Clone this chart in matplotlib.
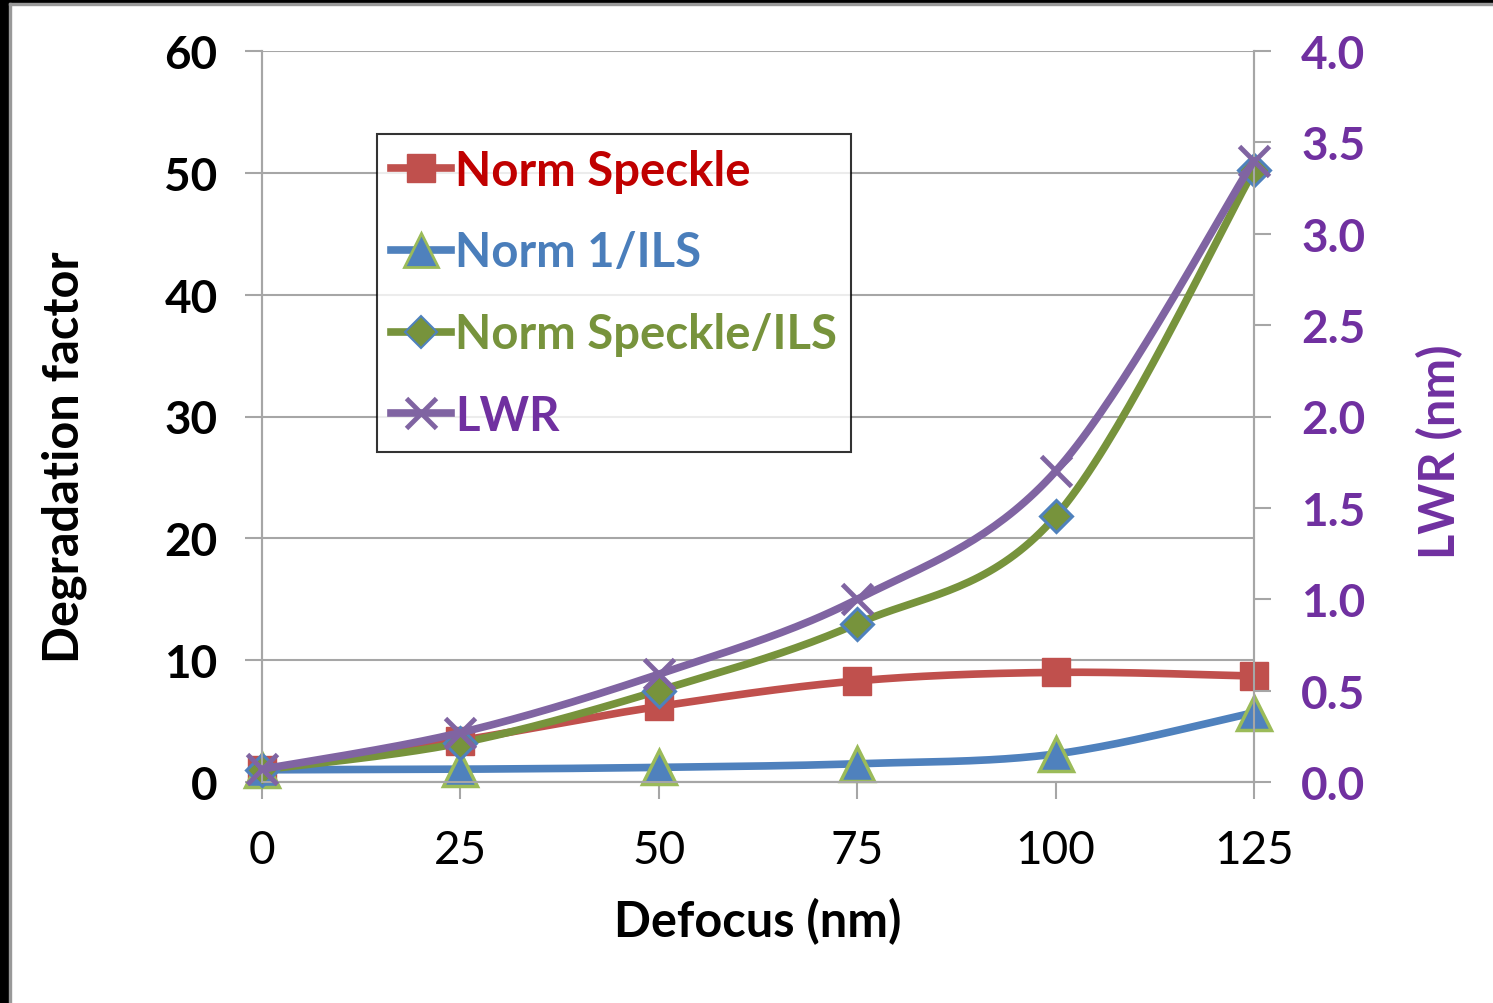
import numpy as np
import matplotlib
matplotlib.use('Agg')
import matplotlib.pyplot as plt
from matplotlib.lines import Line2D
from matplotlib.patches import Rectangle

plt.rcParams['font.family'] = ['Lato', 'DejaVu Sans']

# data
defocus = [0, 25, 50, 75, 100, 125]
norm_speckle = [1.0, 3.4, 6.2, 8.3, 9.0, 8.7]
norm_ils = [1.0, 1.05, 1.2, 1.5, 2.3, 5.7]
norm_speckle_ils = [1.0, 3.2, 7.5, 13.0, 21.8, 50.2]
lwr = [0.07, 0.27, 0.59, 1.00, 1.70, 3.40]

left_ticks = [0, 10, 20, 30, 40, 50, 60]
right_ticks = [0.0, 0.5, 1.0, 1.5, 2.0, 2.5, 3.0, 3.5, 4.0]

RED = '#C0504D'
BLUE = '#4F81BD'
GREEN = '#77933C'
LGREEN = '#9BBB59'
PURPLE = '#8064A2'
PURPLE_TXT = '#7030A0'
GRID = '#A6A6A6'


def smooth(xs, ys, n=40):
    # Catmull-Rom style bezier, like Excel's "smoothed line"
    p = np.column_stack([xs, ys]).astype(float)
    p_ext = np.vstack([p[0], p, p[-1]])
    out = []
    t = np.linspace(0, 1, n)[:, None]
    for i in range(len(p) - 1):
        a, b = p_ext[i + 1], p_ext[i + 2]
        c1 = a + (p_ext[i + 2] - p_ext[i]) / 6.0
        c2 = b - (p_ext[i + 3] - p_ext[i + 1]) / 6.0
        seg = ((1 - t) ** 3) * a + 3 * ((1 - t) ** 2) * t * c1 + 3 * (1 - t) * t ** 2 * c2 + t ** 3 * b
        out.append(seg if i == 0 else seg[1:])
    out = np.vstack(out)
    return out[:, 0], out[:, 1]


fig = plt.figure(figsize=(14.93, 10.04), dpi=100)
ax = fig.add_axes([262 / 1493, 221 / 1004, 992 / 1493, 731 / 1004])
ax2 = ax.twinx()

LW = 5.5
series = [
    (ax, norm_speckle, RED, dict(marker='s', ms=20, mfc=RED, mec=RED, mew=1)),
    (ax, norm_ils, BLUE, dict(marker='^', ms=24, mfc=BLUE, mec=LGREEN, mew=2.5)),
    (ax, norm_speckle_ils, GREEN, dict(marker='D', ms=16, mfc=GREEN, mec=BLUE, mew=2.2)),
    (ax2, lwr, PURPLE, dict(marker='x', ms=22, mec=PURPLE, mew=3.5)),
]
for a, vals, col, mk in series:
    sx, sy = smooth(defocus, vals)
    a.plot(sx, sy, color=col, lw=LW, solid_capstyle='round', zorder=3, clip_on=False)
    a.plot(defocus, vals, ls='none', zorder=4, clip_on=False, **mk)

ax.set_xlim(0, 125)
ax.set_ylim(0, 60)
ax2.set_ylim(0, 4)
ax.set_xticks(defocus)
ax.set_xticklabels([str(d) for d in defocus])
ax.set_yticks(left_ticks)
ax.set_yticklabels([str(v) for v in left_ticks], fontweight='bold')
ax2.set_yticks(right_ticks)
ax2.set_yticklabels([f'{v:.1f}' for v in right_ticks], fontweight='bold', color=PURPLE_TXT)

ax.yaxis.grid(True, color=GRID, lw=1.5)
ax.set_axisbelow(True)
for a in (ax, ax2):
    for s in a.spines.values():
        s.set_color(GRID)
        s.set_linewidth(1.5)
    a.spines['top'].set_visible(False)
ax.tick_params(axis='both', colors=GRID, length=12, width=1.5, direction='out', labelsize=33)
ax.tick_params(axis='y', pad=20, labelcolor='black')
ax.tick_params(axis='x', pad=22, labelcolor='black')
ax2.tick_params(axis='y', colors=GRID, length=12, width=1.5, direction='out', labelsize=33,
                pad=22, labelcolor=PURPLE_TXT)

ax.set_ylabel('Degradation factor', fontsize=35, fontweight='bold')
ax.yaxis.set_label_coords(-0.199, 0.445)
ax.set_xlabel('Defocus (nm)', fontsize=35, fontweight='bold')
ax.xaxis.set_label_coords(0.5, -0.19)
ax.xaxis.label.set_va('center')
ax2.set_ylabel('LWR (nm)', fontsize=35, fontweight='bold', color=PURPLE_TXT)
ax2.yaxis.set_label_coords(1.1875, 0.453)
ax2.yaxis.label.set_va('center')
ax.yaxis.label.set_va('center')

handles = [
    Line2D([], [], color=RED, lw=LW, marker='s', ms=20, mfc=RED, mec=RED),
    Line2D([], [], color=BLUE, lw=LW, marker='^', ms=24, mfc=BLUE, mec=LGREEN, mew=2),
    Line2D([], [], color=GREEN, lw=LW, marker='D', ms=16, mfc=GREEN, mec=BLUE, mew=1.5),
    Line2D([], [], color=PURPLE, lw=LW, marker='x', ms=22, mec=PURPLE, mew=3.5),
]
labels = ['Norm Speckle', 'Norm 1/ILS', 'Norm Speckle/ILS', 'LWR']
leg = ax2.legend(handles, labels, loc='upper left', bbox_to_anchor=(0.116, 0.886),
                 prop=dict(size=34, weight='bold'), frameon=True, fancybox=False,
                 edgecolor='black', handlelength=1.27, handletextpad=0.08,
                 labelspacing=0.8, borderpad=0.3, borderaxespad=0)
leg.get_frame().set_linewidth(1.5)
for txt, c in zip(leg.get_texts(), ['#C00000', '#4A7EBB', GREEN, PURPLE_TXT]):
    txt.set_color(c)

# dark frame along left and top edge
fig.add_artist(Rectangle((0, 0), 9 / 1493, 1, transform=fig.transFigure, color='black', zorder=10))
fig.add_artist(Rectangle((0, 1 - 4 / 1004), 1, 4 / 1004, transform=fig.transFigure, color='black', zorder=10))
fig.add_artist(Rectangle((9 / 1493, 0), 2 / 1493, 1 - 4 / 1004, transform=fig.transFigure, color='#999999', zorder=10))
fig.add_artist(Rectangle((9 / 1493, 1 - 6 / 1004), 1, 2 / 1004, transform=fig.transFigure, color='#999999', zorder=10))

fig.savefig('out.png', dpi=100)
